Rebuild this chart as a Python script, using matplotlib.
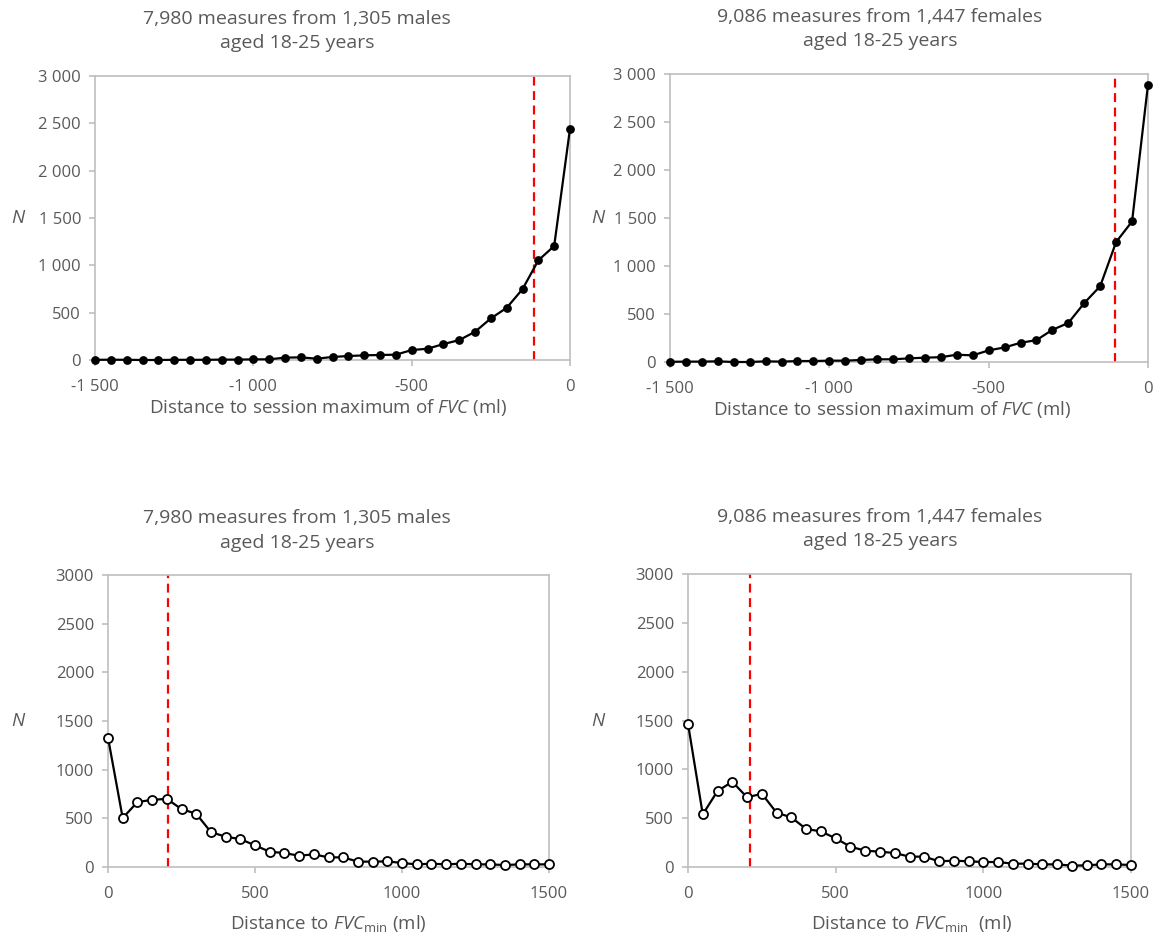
import matplotlib
matplotlib.use("Agg")
import matplotlib.pyplot as plt
from matplotlib.ticker import FuncFormatter
import numpy as np

# datos
dist_max = np.arange(-1500, 1, 50)
males_max = [2, 3, 2, 0, 0, 2, 2, 2, 4, 4, 7, 7, 25, 28, 14, 32, 42, 49, 53, 56,
             105, 119, 168, 210, 298, 439, 551, 748, 1053, 1204, 2443]
females_max = [2, 4, 4, 7, 0, 0, 7, 4, 10, 10, 14, 14, 21, 28, 28, 38, 45, 50, 76, 69,
               121, 152, 200, 228, 335, 407, 614, 790, 1250, 1464, 2890]

dist_min = np.arange(0, 1501, 50)
males_min = [1329, 503, 667, 690, 700, 595, 547, 359, 311, 287, 222, 157, 143, 116, 130,
             99, 99, 55, 55, 58, 41, 27, 34, 27, 34, 27, 27, 20, 27, 27, 27]
females_min = [1466, 539, 778, 873, 713, 750, 556, 508, 389, 365, 293, 208, 167, 157, 143,
               106, 106, 58, 65, 58, 51, 51, 34, 34, 27, 27, 14, 17, 27, 27, 20]

cut_males_max = -114
cut_females_max = -105
cut_males_min = 205
cut_females_min = 210

title_m = "7,980 measures from 1,305 males\naged 18-25 years"
title_f = "9,086 measures from 1,447 females\naged 18-25 years"

plt.rcParams['font.family'] = ['Open Sans', 'DejaVu Sans']
plt.rcParams['mathtext.fontset'] = 'custom'
plt.rcParams['mathtext.rm'] = 'Open Sans'
plt.rcParams['mathtext.it'] = 'Open Sans:italic'

W, H = 1155, 938
gray = "#595959"
spine = "#BFBFBF"

fig = plt.figure(figsize=(W / 100, H / 100), dpi=100)


def add_ax(l, r, t, b):
    return fig.add_axes([l / W, 1 - b / H, (r - l) / W, (b - t) / H])


def space_thousands(v, pos):
    return "{:,}".format(int(v)).replace(",", " ")


def style(ax, xlim, xticks, sep):
    ax.set_xlim(*xlim)
    ax.set_ylim(0, 3000)
    ax.set_xticks(xticks)
    ax.set_yticks(np.arange(0, 3001, 500))
    if sep:
        ax.xaxis.set_major_formatter(FuncFormatter(space_thousands))
        ax.yaxis.set_major_formatter(FuncFormatter(space_thousands))
    for s in ax.spines.values():
        s.set_color(spine)
        s.set_linewidth(1.2)
    ax.tick_params(axis='both', colors=spine, labelcolor=gray, labelsize=12,
                   length=4, width=1.2, direction='out')
    ax.tick_params(axis='x', pad=10)
    ax.tick_params(axis='y', pad=6)


panels = [
    # (rect, x, y, corte, filled, title, title_x, xlabel, xlabel_x, xlabel_dy)
    ((95, 570, 76, 360), dist_max, males_max, cut_males_max, True, title_m, 297,
     "Distance to session maximum of $\\mathit{FVC}$ (ml)", 328, 47),
    ((670, 1148, 74, 362), dist_max, females_max, cut_females_max, True, title_f, 880,
     "Distance to session maximum of $\\mathit{FVC}$ (ml)", 892, 47),
    ((108, 549, 575, 867), dist_min, males_min, cut_males_min, False, title_m, 297,
     "Distance to $\\mathit{FVC}_{\\mathrm{min}}$ (ml)", 328, 56),
    ((688, 1131, 574, 867), dist_min, females_min, cut_females_min, False, title_f, 880,
     "Distance to $\\mathit{FVC}_{\\mathrm{min}}$  (ml)", 912, 56),
]

for rect, x, y, cut, filled, title, tx, xlabel, xx, dy in panels:
    l, r, t, b = rect
    ax = add_ax(l, r, t, b)
    ax.axvline(cut, color="#FF0000", lw=1.6, dashes=(4, 2.5), zorder=2)
    ax.plot(x, y, color="black", lw=1.6, marker="o",
            markersize=5 if filled else 6.5,
            markerfacecolor="black" if filled else "white",
            markeredgecolor="black", markeredgewidth=1.3,
            clip_on=False, zorder=3)
    if filled:
        style(ax, (-1500, 0), [-1500, -1000, -500, 0], True)
    else:
        style(ax, (0, 1500), [0, 500, 1000, 1500], False)

    fig.text(tx / W, 1 - (t - 45) / H, title, ha="center", va="center",
             fontsize=14, color=gray, linespacing=1.5)
    fig.text(xx / W, 1 - (b + dy) / H, xlabel, ha="center", va="center",
             fontsize=13.5, color=gray)
    fig.text((18 if l < 300 else 598) / W, 1 - (t + (b - t) / 2) / H, "N",
             ha="center", va="center", fontsize=13.5, color=gray, style="italic")

fig.savefig("out.png", dpi=100)
